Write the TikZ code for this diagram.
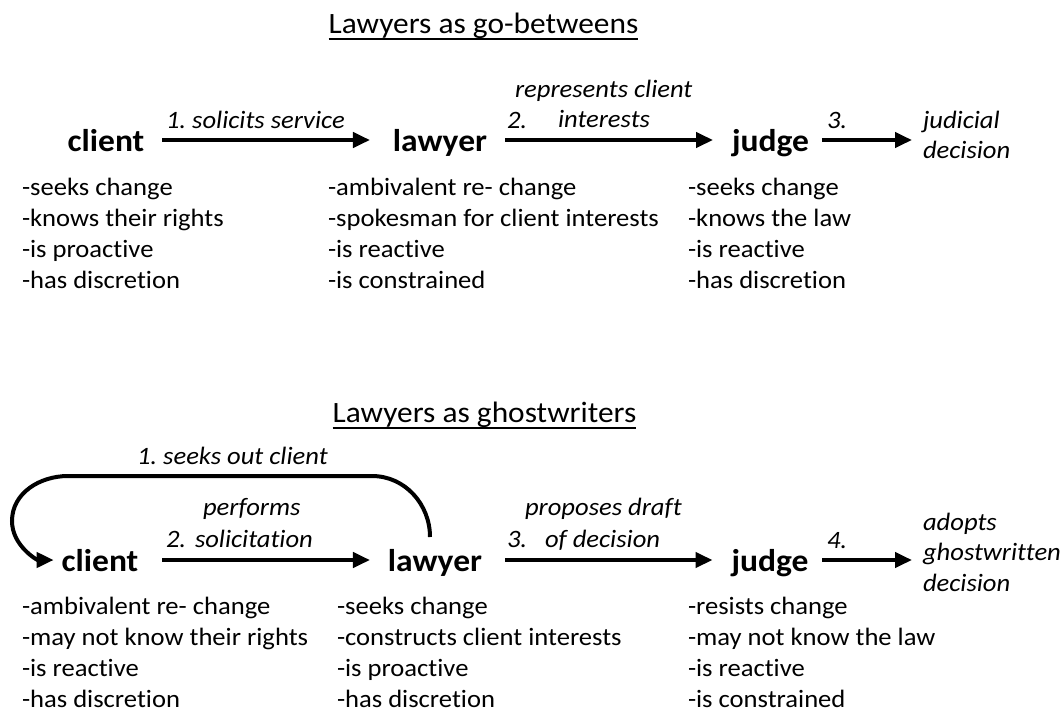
\documentclass[tikz,border=0pt]{standalone}
\usepackage{fontspec}
\setmainfont{Carlito}[FakeStretch=1.064, Ligatures=NoCommon]
\usetikzlibrary{arrows.meta}
\begin{document}
\frenchspacing
\begin{tikzpicture}[x=1pt,y=-1pt,
  every node/.style={inner sep=0pt, outer sep=0pt},
  actor/.style={font=\fontsize{31.5}{36}\selectfont\bfseries, text height=28pt, text depth=6pt},
  lab/.style={font=\fontsize{25}{30}\selectfont\itshape, anchor=base west},
  mlab/.style={font=\fontsize{25}{30.5}\selectfont\itshape, align=left, anchor=north west},
  lst/.style={font=\fontsize{25}{31.2}\selectfont, align=left, anchor=north west},
  ttl/.style={font=\fontsize{29.5}{34}\selectfont, anchor=base},
  uline/.style={line width=2pt},
  arr/.style={line width=4pt, -{Triangle[length=17pt,width=15pt]}},
]
\useasboundingbox (0,0) rectangle (1063,713);

% ---------- top diagram ----------
\node[ttl] (t1) at (483.5,33) {Lawyers as go-betweens};
\draw[uline] ([yshift=-6pt]t1.base west) -- ([yshift=-6pt]t1.base east);

\node[actor] (c1) at (106,140) {client};
\node[actor] (l1) at (440,140) {lawyer};
\node[actor] (j1) at (770.5,140) {judge};
\node[mlab] (d1) at (923,108) {\rule{0pt}{20pt}judicial\\decision};

\draw[arr, shorten <=18pt, shorten >=23pt] (c1) -- (l1);
\draw[arr, shorten <=18pt, shorten >=19pt] (l1) -- (j1);
\draw[arr, shorten <=13pt, shorten >=11pt] (j1) -- (j1 -| d1.west);

\node[lab] (a1) at (166,128) {1. solicits service};
\node[lab] (n2) at (507,128) {2.};
\node[lab] (a2a) at (515,97) {represents client};
\node[lab] (a2b) at (558,127) {interests};
\node[lab] (n3) at (827,128) {3.};

\node[lst] (cl1) at (22,175) {\rule{0pt}{20pt}-seeks change\\-knows their rights\\-is proactive\\-has discretion};
\node[lst] (ll1) at (328,175) {\rule{0pt}{20pt}-ambivalent re- change\\-spokesman for client interests\\-is reactive\\-is constrained};
\node[lst] (jl1) at (688,175) {\rule{0pt}{20pt}-seeks change\\-knows the law\\-is reactive\\-has discretion};

% ---------- bottom diagram ----------
\node[ttl] (t2) at (484.5,422) {Lawyers as ghostwriters};
\draw[uline] ([yshift=-6pt]t2.base west) -- ([yshift=-6pt]t2.base east);

\node[actor] (c2) at (100,560) {client};
\node[actor] (l2) at (435,560) {lawyer};
\node[actor] (j2) at (770,560) {judge};
\node[mlab] (d2) at (923,510) {\rule{0pt}{20pt}adopts\\ghostwritten\\decision};

\coordinate (ls) at (430,537);
\draw[arr, shorten >=8pt] (ls) to[out=90,in=0] (372,476) -- (68,476) to[out=180,in=90] (12,521) to[out=-90,in=180] (c2.west);
\draw[arr, shorten <=24pt, shorten >=18pt] (c2) -- (l2);
\draw[arr, shorten <=23pt, shorten >=19pt] (l2) -- (j2);
\draw[arr, shorten <=14pt, shorten >=11pt] (j2) -- (j2 -| d2.west);

\node[lab] (s1) at (137,464) {1. seeks out client};
\node[lab] (p1) at (203,515) {performs};
\node[lab] (n22) at (166,547) {2.};
\node[lab] (p2) at (195,547) {solicitation};
\node[lab] (n33) at (507,547) {3.};
\node[lab] (q1) at (525,515) {proposes draft};
\node[lab] (q2) at (545,547) {of decision};
\node[lab] (n4) at (827,548) {4.};

\node[lst] (cl2) at (22,594) {\rule{0pt}{20pt}-ambivalent re- change\\-may not know their rights\\-is reactive\\-has discretion};
\node[lst] (ll2) at (337,594) {\rule{0pt}{20pt}-seeks change\\-constructs client interests\\-is proactive\\-has discretion};
\node[lst] (jl2) at (688,594) {\rule{0pt}{20pt}-resists change\\-may not know the law\\-is reactive\\-is constrained};
\end{tikzpicture}
\end{document}
